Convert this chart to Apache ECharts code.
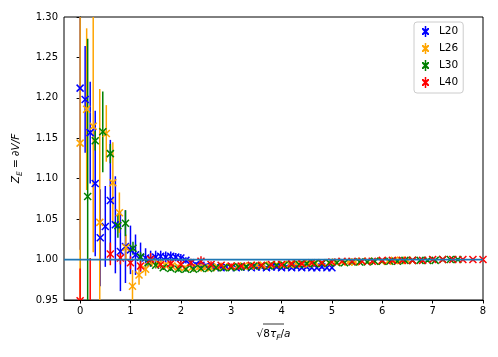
<!DOCTYPE html>
<html><head><meta charset="utf-8">
<script src="https://cdn.jsdelivr.net/npm/echarts@6/dist/echarts.min.js"></script>
<style>html,body{margin:0;padding:0;background:#fff}#c{width:498px;height:357px}</style>
</head><body><div id="c"></div>
<script>
const seriesNames = ['L20', 'L26', 'L30', 'L40'];
const seriesColors = ['#0000ff', '#ffa500', '#008000', '#ff0000'];

const xL20 = [0.0,0.1,0.2,0.3,0.4,0.5,0.6,0.7,0.8,0.9,1.0,1.1,1.2,1.3,1.4,1.5,1.6,1.7,1.8,1.9,2.0,2.1,2.2,2.3,2.4,2.5,2.6,2.7,2.8,2.9,3.0,3.1,3.2,3.3,3.4,3.5,3.6,3.7,3.8,3.9,4.0,4.1,4.2,4.3,4.4,4.5,4.6,4.7,4.8,4.9,5.0];
const yL20 = [1.212,1.198,1.157,1.094,1.027,1.041,1.073,1.043,1.010,1.016,1.012,1.006,1.003,1.002,1.001,1.003,1.004,1.003,1.004,1.003,1.002,0.999,0.996,0.994,0.993,0.992,0.991,0.991,0.990,0.991,0.991,0.990,0.991,0.991,0.990,0.991,0.991,0.990,0.991,0.991,0.990,0.991,0.990,0.991,0.990,0.991,0.990,0.990,0.991,0.990,0.990];
const eL20 = [0.20,0.066,0.063,0.090,0.060,0.050,0.075,0.060,0.049,0.045,0.030,0.025,0.018,0.012,0.010,0.008,0.007,0.007,0.006,0.005,0.005,0.004,0.004,0.003,0.003,0.003,0.002,0.002,0.002,0.002,0.002,0.002,0.002,0.002,0.002,0.002,0.002,0.002,0.002,0.002,0.002,0.002,0.002,0.002,0.002,0.002,0.002,0.002,0.002,0.002,0.002];

const xL26 = [0.00,0.13,0.26,0.39,0.52,0.65,0.78,0.91,1.04,1.17,1.30,1.43,1.56,1.69,1.82,1.95,2.08,2.21,2.34,2.47,2.60,2.73,2.86,2.99,3.12,3.25,3.38,3.51,3.64,3.77,3.90,4.03,4.16,4.29,4.42,4.55,4.68,4.81,4.94,5.07,5.20,5.33,5.46,5.59,5.72,5.85,5.98,6.11,6.24,6.37,6.50];
const yL26 = [1.144,1.186,1.165,1.046,1.156,1.095,1.058,1.015,0.967,0.981,0.988,0.997,0.995,0.993,0.992,0.991,0.990,0.990,0.990,0.990,0.990,0.991,0.991,0.991,0.992,0.992,0.992,0.993,0.993,0.993,0.994,0.994,0.994,0.995,0.995,0.995,0.996,0.996,0.996,0.997,0.997,0.997,0.997,0.998,0.998,0.998,0.998,0.998,0.999,0.999,0.999];
const eL26 = [0.25,0.10,0.156,0.165,0.035,0.05,0.025,0.016,0.020,0.012,0.008,0.006,0.005,0.004,0.004,0.003,0.003,0.003,0.003,0.003,0.003,0.003,0.003,0.003,0.003,0.003,0.002,0.002,0.002,0.002,0.002,0.002,0.002,0.002,0.002,0.002,0.002,0.002,0.002,0.002,0.002,0.002,0.002,0.002,0.002,0.002,0.002,0.002,0.002,0.002,0.002];

const xL30 = [0.00,0.15,0.30,0.45,0.60,0.75,0.90,1.05,1.20,1.35,1.50,1.65,1.80,1.95,2.10,2.25,2.40,2.55,2.70,2.85,3.00,3.15,3.30,3.45,3.60,3.75,3.90,4.05,4.20,4.35,4.50,4.65,4.80,4.95,5.10,5.25,5.40,5.55,5.70,5.85,6.00,6.15,6.30,6.45,6.60,6.75,6.90,7.05,7.20,7.35,7.50];
const yL30 = [null,1.078,1.147,1.158,1.131,1.042,1.045,1.014,1.003,0.996,0.993,0.990,0.989,0.988,0.988,0.988,0.989,0.989,0.990,0.990,0.990,0.991,0.991,0.992,0.992,0.992,0.993,0.993,0.994,0.994,0.995,0.995,0.995,0.996,0.996,0.996,0.997,0.997,0.997,0.998,0.998,0.998,0.998,0.999,0.999,0.999,0.999,0.999,1.000,1.000,1.000];
const eL30 = [null,0.195,0.012,0.050,0.012,0.015,0.016,0.008,0.006,0.005,0.004,0.003,0.003,0.003,0.003,0.003,0.003,0.003,0.003,0.003,0.002,0.002,0.002,0.002,0.002,0.002,0.002,0.002,0.002,0.002,0.002,0.002,0.002,0.002,0.002,0.002,0.002,0.002,0.002,0.002,0.002,0.002,0.002,0.002,0.002,0.002,0.002,0.002,0.002,0.002,0.002];

const xL40 = [0.0,0.2,0.4,0.6,0.8,1.0,1.2,1.4,1.6,1.8,2.0,2.2,2.4,2.6,2.8,3.0,3.2,3.4,3.6,3.8,4.0,4.2,4.4,4.6,4.8,5.0,5.2,5.4,5.6,5.8,6.0,6.2,6.4,6.6,6.8,7.0,7.2,7.4,7.6,7.8,8.0];
const yL40 = [0.949,0.930,null,1.007,1.002,0.996,0.992,1.000,0.994,0.995,0.994,0.996,0.998,0.994,0.993,0.992,0.992,0.993,0.993,0.994,0.994,0.995,0.995,0.996,0.996,0.997,0.998,0.998,0.998,0.998,0.999,0.999,0.999,0.999,0.999,1.000,1.000,1.000,1.000,1.000,1.000];
const eL40 = [0.040,0.072,null,0.014,0.008,0.008,0.006,0.008,0.005,0.005,0.005,0.005,0.006,0.004,0.003,0.003,0.002,0.002,0.002,0.002,0.002,0.002,0.002,0.002,0.002,0.002,0.002,0.002,0.002,0.002,0.002,0.002,0.002,0.002,0.002,0.002,0.002,0.002,0.002,0.002,0.002];

const xTicks = [0, 1, 2, 3, 4, 5, 6, 7, 8];
const yTicks = [0.95, 1.00, 1.05, 1.10, 1.15, 1.20, 1.25, 1.30];
const xRange = [-0.32, 8];
const yRange = [0.95, 1.30];
const refLineY = 1.0;

const allX = [xL20, xL26, xL30, xL40];
const allY = [yL20, yL26, yL30, yL40];
const allE = [eL20, eL26, eL30, eL40];

const FONT = 'DejaVu Sans';
const legendIcon = 'path://M2.75,0H4.25V11H2.75Z M0,2H1.4L7,7.6V9H5.6L0,3.4Z M7,2V3.4L1.4,9H0V7.6L5.6,2Z';

function buildData(k) {
  const out = [];
  allX[k].forEach((xv, i) => {
    if (allY[k][i] !== null) out.push([xv, allY[k][i], allE[k][i]]);
  });
  return out;
}

// clip a segment to the vertical extent of the plotting rectangle
function clipSeg(x1, y1, x2, y2, top, bottom) {
  if (y1 > y2) { let t = x1; x1 = x2; x2 = t; t = y1; y1 = y2; y2 = t; }
  if (y2 < top || y1 > bottom) return null;
  const dy = y2 - y1;
  let nx1 = x1, ny1 = y1, nx2 = x2, ny2 = y2;
  if (y1 < top) { const f = (top - y1) / dy; nx1 = x1 + (x2 - x1) * f; ny1 = top; }
  if (y2 > bottom) { const f = (y2 - y1 - (y2 - bottom)) / dy; nx2 = x1 + (x2 - x1) * f; ny2 = bottom; }
  return { x1: nx1, y1: ny1, x2: nx2, y2: ny2 };
}

function barRender(color) {
  return function (params, api) {
    const cs = params.coordSys;
    const x = api.value(0), y = api.value(1), e = api.value(2);
    const p1 = api.coord([x, y + e]);
    const p2 = api.coord([x, y - e]);
    const s = clipSeg(p1[0], p1[1], p2[0], p2[1], cs.y, cs.y + cs.height);
    if (!s) return null;
    return { type: 'line', shape: s, style: { stroke: color, lineWidth: 1.5 } };
  };
}
function markRender(color) {
  return function (params, api) {
    const cs = params.coordSys;
    const p = api.coord([api.value(0), api.value(1)]);
    const h = 3.5;
    const kids = [];
    const a = clipSeg(p[0] - h, p[1] - h, p[0] + h, p[1] + h, cs.y, cs.y + cs.height);
    const b = clipSeg(p[0] - h, p[1] + h, p[0] + h, p[1] - h, cs.y, cs.y + cs.height);
    if (a) kids.push({ type: 'line', shape: a, style: { stroke: color, lineWidth: 1.5 } });
    if (b) kids.push({ type: 'line', shape: b, style: { stroke: color, lineWidth: 1.5 } });
    return { type: 'group', children: kids };
  };
}

const series = [];
seriesNames.forEach((nm, k) => {
  series.push({ name: nm, type: 'custom', z: 2, silent: true, animation: false,
    itemStyle: { color: seriesColors[k] }, encode: { x: 0, y: 1 },
    renderItem: barRender(seriesColors[k]), data: buildData(k) });
});
seriesNames.forEach((nm, k) => {
  series.push({ name: nm, type: 'custom', z: 3, silent: true, animation: false,
    itemStyle: { color: seriesColors[k] }, encode: { x: 0, y: 1 },
    renderItem: markRender(seriesColors[k]), data: buildData(k) });
});
series.push({ name: 'ref', type: 'line', z: 4, silent: true, animation: false, showSymbol: false,
  data: [[xRange[0], refLineY], [xRange[1], refLineY]], lineStyle: { color: '#1f77b4', width: 1.8 } });

const chart = echarts.init(document.getElementById('c'), null, { renderer: 'canvas' });
chart.setOption({
  animation: false,
  backgroundColor: '#ffffff',
  grid: { left: 64, right: 15, top: 17, bottom: 57, show: true, borderColor: '#000', borderWidth: 1, backgroundColor: '#fff' },
  legend: {
    orient: 'vertical', left: 414, top: 22, width: 64,
    data: seriesNames.map(n => ({ name: n, icon: legendIcon })),
    itemWidth: 17, itemHeight: 11, itemGap: 6,
    padding: [4, 5, 5, 8],
    backgroundColor: 'rgba(255,255,255,0.8)', borderColor: '#cccccc', borderWidth: 1, borderRadius: 3,
    textStyle: { fontFamily: FONT, fontSize: 10.5, color: '#000' },
    selectedMode: false
  },
  xAxis: {
    type: 'value', min: xRange[0], max: xRange[1],
    axisLine: { show: true, onZero: false, lineStyle: { color: '#000', width: 1 } },
    axisTick: { show: true, length: 3.5, lineStyle: { color: '#000', width: 1 }, customValues: xTicks },
    axisLabel: { customValues: xTicks, color: '#000', fontFamily: FONT, fontSize: 10, margin: 6, formatter: v => String(v) },
    splitLine: { show: false },
    name: '{n|√}{n|8}{i|τ}{s|F}{n|/}{i|a}',
    nameLocation: 'middle', nameGap: 26,
    nameTextStyle: { color: '#000', fontFamily: FONT, fontSize: 10,
      rich: {
        n: { fontFamily: FONT, fontSize: 10.5, color: '#000' },
        i: { fontFamily: FONT, fontSize: 10.5, fontStyle: 'italic', color: '#000' },
        s: { fontFamily: FONT, fontSize: 7.5, fontStyle: 'italic', color: '#000', verticalAlign: 'bottom', lineHeight: 16 }
      } }
  },
  yAxis: {
    type: 'value', min: yRange[0], max: yRange[1],
    axisLine: { show: true, lineStyle: { color: '#000', width: 1 } },
    axisTick: { show: true, length: 3.5, lineStyle: { color: '#000', width: 1 }, customValues: yTicks },
    axisLabel: { customValues: yTicks, color: '#000', fontFamily: FONT, fontSize: 10, margin: 6, formatter: v => v.toFixed(2) },
    splitLine: { show: false },
    name: '{i|Z}{s|E}{n| = ∂}{i|V/F}',
    nameLocation: 'middle', nameRotate: 90, nameGap: 40,
    nameTextStyle: { color: '#000', fontFamily: FONT, fontSize: 10,
      rich: {
        n: { fontFamily: FONT, fontSize: 10.5, color: '#000' },
        i: { fontFamily: FONT, fontSize: 10.5, fontStyle: 'italic', color: '#000' },
        s: { fontFamily: FONT, fontSize: 7.5, fontStyle: 'italic', color: '#000', verticalAlign: 'bottom', lineHeight: 16 }
      } }
  },
  graphic: [
    { type: 'line', silent: true, z: 10, shape: { x1: 263, y1: 324, x2: 284, y2: 324 }, style: { stroke: '#000', lineWidth: 0.8 } }
  ],
  series: series
});
</script></body></html>
